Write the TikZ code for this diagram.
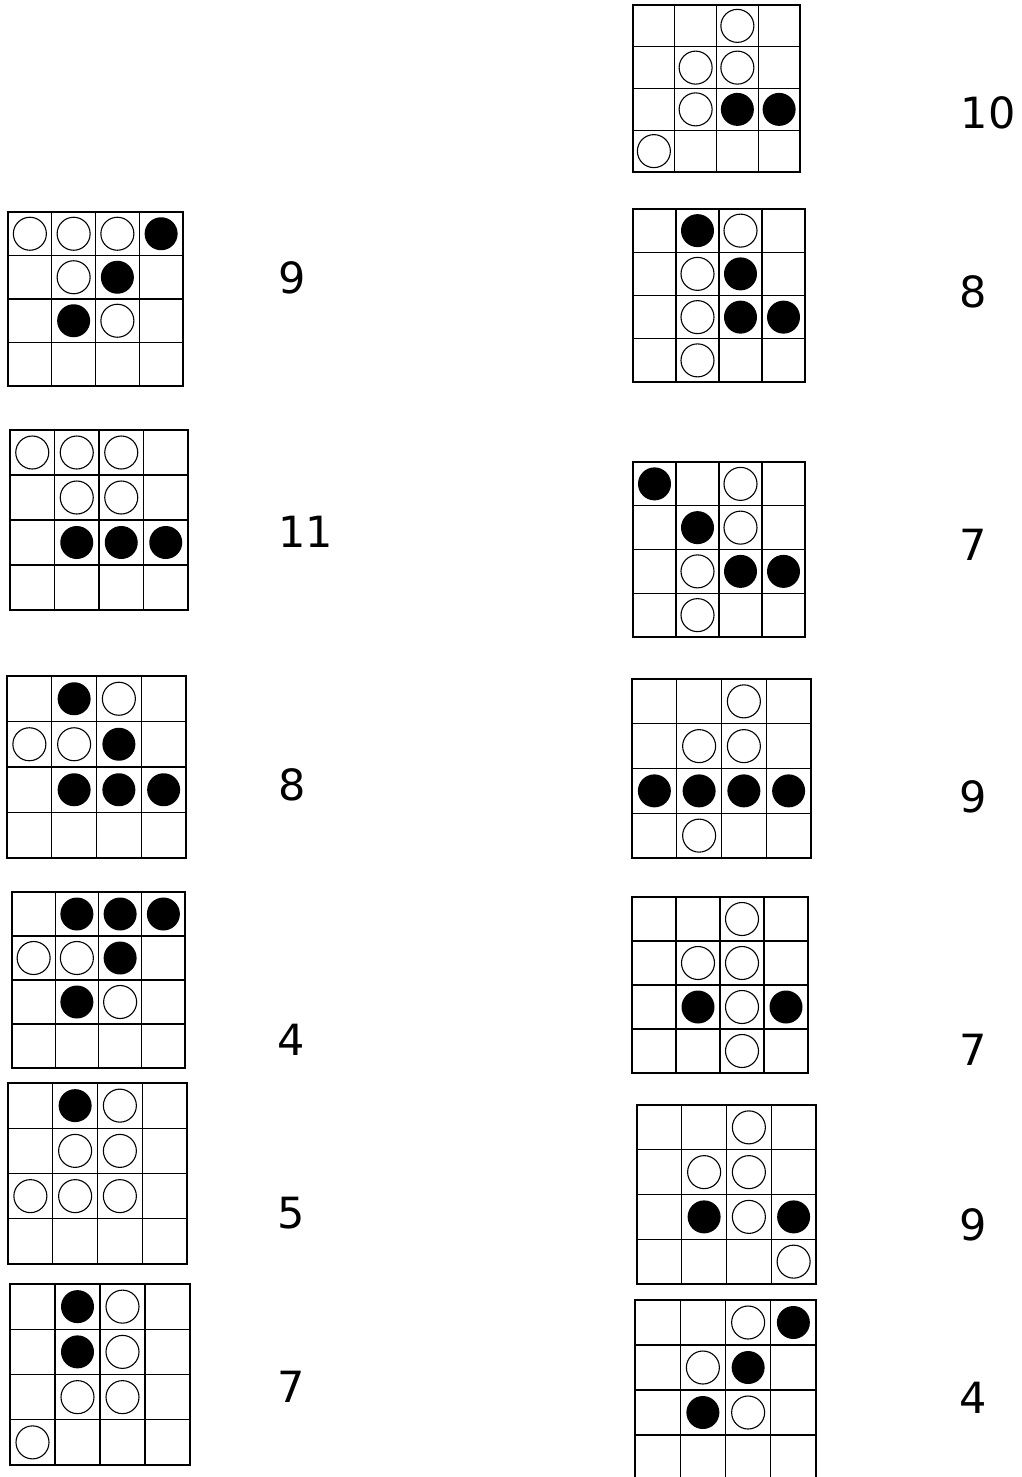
\documentclass[tikz,border=0pt]{standalone}
\usepackage{fontspec}
\setmainfont{DejaVu Sans}
\newcommand\myboard[5]{%
  \pgfmathsetmacro\mycw{(#3-#1)/4}%
  \pgfmathsetmacro\mych{(#4-#2)/4}%
  \draw[gridline] (#1,#2) rectangle (#3,#4);
  \foreach \i in {1,2,3} {
    \draw[gridline] ({#1+\i*\mycw},#2) -- ({#1+\i*\mycw},#4);
    \draw[gridline] (#1,{#2+\i*\mych}) -- (#3,{#2+\i*\mych});
  }
  \foreach \c/\r/\k in {#5} {
    \path[\k] ({#1+(\c-0.5)*\mycw},{#2+(\r-0.5)*\mych}) circle (16.5pt);
  }
}
\begin{document}
\begin{tikzpicture}[x=1pt,y=-1pt,
  gridline/.style={line width=1.4pt, draw=black},
  wp/.style={draw=black, fill=white, line width=1.1pt},
  bp/.style={fill=black},
  lbl/.style={font=\fontsize{43}{50}\selectfont, inner sep=0pt, text=black}]
\useasboundingbox (0,0) rectangle (1021,1477);
\clip (0,0) rectangle (1021,1477);
\fill[white] (0,0) rectangle (1021,1477);
% left column
\myboard{8}{212}{183}{386}{1/1/wp,2/1/wp,3/1/wp,4/1/bp,2/2/wp,3/2/bp,2/3/bp,3/3/wp}
\myboard{10}{430}{188}{610}{1/1/wp,2/1/wp,3/1/wp,2/2/wp,3/2/wp,2/3/bp,3/3/bp,4/3/bp}
\myboard{7}{676}{186}{858}{2/1/bp,3/1/wp,1/2/wp,2/2/wp,3/2/bp,2/3/bp,3/3/bp,4/3/bp}
\myboard{12}{892}{185}{1068}{2/1/bp,3/1/bp,4/1/bp,1/2/wp,2/2/wp,3/2/bp,2/3/bp,3/3/wp}
\myboard{8}{1083}{187}{1264}{2/1/bp,3/1/wp,2/2/wp,3/2/wp,1/3/wp,2/3/wp,3/3/wp}
\myboard{10}{1284}{190}{1465}{2/1/bp,3/1/wp,2/2/bp,3/2/wp,2/3/wp,3/3/wp,1/4/wp}
% right column
\myboard{633}{5}{800}{172}{3/1/wp,2/2/wp,3/2/wp,2/3/wp,3/3/bp,4/3/bp,1/4/wp}
\myboard{633}{209}{805}{382}{2/1/bp,3/1/wp,2/2/wp,3/2/bp,2/3/wp,3/3/bp,4/3/bp,2/4/wp}
\myboard{633}{462}{805}{637}{1/1/bp,3/1/wp,2/2/bp,3/2/wp,2/3/wp,3/3/bp,4/3/bp,2/4/wp}
\myboard{632}{679}{811}{858}{3/1/wp,2/2/wp,3/2/wp,1/3/bp,2/3/bp,3/3/bp,4/3/bp,2/4/wp}
\myboard{632}{897}{808}{1073}{3/1/wp,2/2/wp,3/2/wp,2/3/bp,3/3/wp,4/3/bp,3/4/wp}
\myboard{637}{1105}{816}{1284}{3/1/wp,2/2/wp,3/2/wp,2/3/bp,3/3/wp,4/3/bp,4/4/wp}
\myboard{635}{1300}{816}{1480}{3/1/wp,4/1/bp,2/2/wp,3/2/bp,2/3/bp,3/3/wp}
% labels
\node[lbl] (l1) at (292,278) {9};
\node[lbl] (l2) at (306,532) {11};
\node[lbl] (l3) at (292,785) {8};
\node[lbl] (l4) at (291,1040) {4};
\node[lbl] (l5) at (291,1213) {5};
\node[lbl] (l6) at (291,1387) {7};
\node[lbl] (r1) at (988,113) {10};
\node[lbl] (r2) at (973,292) {8};
\node[lbl] (r3) at (973,545) {7};
\node[lbl] (r4) at (973,797) {9};
\node[lbl] (r5) at (973,1050) {7};
\node[lbl] (r6) at (973,1225) {9};
\node[lbl] (r7) at (973,1398) {4};
\end{tikzpicture}
\end{document}
